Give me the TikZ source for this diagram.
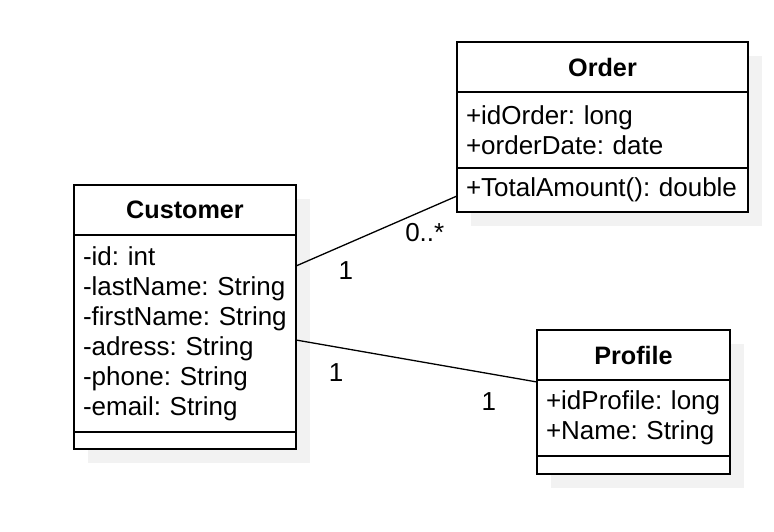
\documentclass[tikz,border=0pt]{standalone}
\usepackage{fontspec}
\setmainfont{Liberation Sans}
\usepackage{tikz}
\usetikzlibrary{positioning, shadows}
\definecolor{myshadow}{RGB}{242,242,242}
\newcommand{\umlsize}{\fontsize{26}{30}\selectfont\frenchspacing}
\newcommand{\umlheadsize}{\fontsize{25.2}{30}\selectfont\frenchspacing}
\tikzset{
  classhead/.style={rectangle, draw=black, fill=white, line width=1.6pt,
    outer sep=0pt, inner xsep=9pt, minimum height=50pt, align=center,
    font=\umlheadsize\bfseries,
    drop shadow={shadow xshift=14pt, shadow yshift=-14pt, fill=myshadow, opacity=1}},
  classpart/.style={rectangle, draw=black, fill=white, line width=1.6pt,
    outer sep=0pt, inner xsep=9pt, align=left, font=\umlsize,
    drop shadow={shadow xshift=14pt, shadow yshift=-14pt, fill=myshadow, opacity=1}},
  assoc/.style={line width=1.3pt, color=black},
  mult/.style={font=\umlsize, inner sep=1pt}
}
\begin{document}
\begin{tikzpicture}[x=1pt, y=-1pt]
  \useasboundingbox (0,0) rectangle (774,532);
  % Customer
  \node[classhead, text width=204pt] (cust-head) at (185,210) {Customer};
  \node[classpart, text width=204pt, minimum height=197pt, below=0pt of cust-head] (cust-attr)
    {-id: int\\-lastName: String\\-firstName: String\\-adress: String\\-phone: String\\-email: String};
  \node[classpart, text width=204pt, minimum height=17pt, below=0pt of cust-attr] (cust-meth) {};
  % Order
  \node[classhead, text width=273pt] (ord-head) at (602.5,67) {Order};
  \node[classpart, text width=273pt, minimum height=76pt, below=0pt of ord-head] (ord-attr)
    {+idOrder: long\\+orderDate: date};
  \node[classpart, text width=273pt, minimum height=44pt, below=0pt of ord-attr] (ord-meth)
    {+TotalAmount(): double};
  % Profile
  \node[classhead, text width=175pt] (prof-head) at (633.5,355) {Profile};
  \node[classpart, text width=175pt, minimum height=76pt, below=0pt of prof-head] (prof-attr)
    {+idProfile: long\\+Name: String};
  \node[classpart, text width=175pt, minimum height=18pt, below=0pt of prof-attr] (prof-meth) {};
  % associations
  \draw[assoc] ([yshift=67.5pt]cust-attr.east)
    -- node[mult, pos=0.31, yshift=-26pt] {1}
       node[mult, pos=0.8, yshift=-23pt] {0..*}
    ([yshift=-6pt]ord-meth.west);
  \draw[assoc] ([yshift=-6.5pt]cust-attr.east)
    -- node[mult, pos=0.166, yshift=-26pt] {1}
       node[mult, pos=0.8, yshift=-27.5pt] {1}
    ([yshift=36pt]prof-attr.west);
\end{tikzpicture}
\end{document}
